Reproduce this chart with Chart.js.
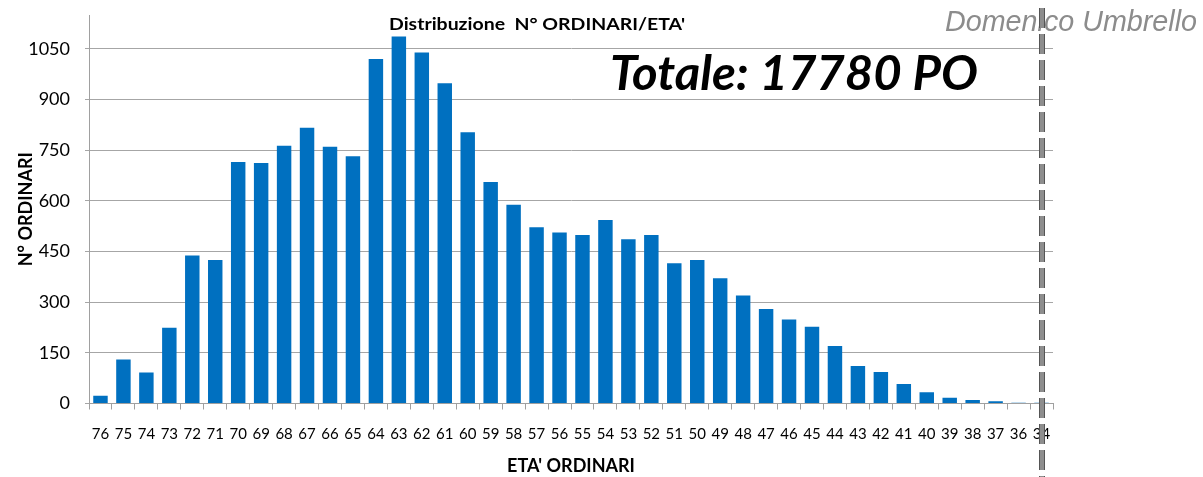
<!DOCTYPE html>
<html>
<head>
<meta charset="utf-8">
<script src="https://cdn.jsdelivr.net/npm/chart.js@4"></script>
<style>
  html, body { margin: 0; padding: 0; background: #fff; }
  #wrap { width: 1203px; height: 477px; }
</style>
</head>
<body>
<div id="wrap"><canvas id="chart" width="1203" height="477"></canvas></div>
<script>
// eta' (labels as in the original, 35 is missing)
const ageLabels = ['76','75','74','73','72','71','70','69','68','67','66','65','64','63','62','61','60','59','58','57','56','55','54','53','52','51','50','49','48','47','46','45','44','43','42','41','40','39','38','37','36','34'];
// numero ordinari per eta'
const ordinari = [23,130,92,224,438,425,715,712,763,816,760,732,1020,1086,1039,948,803,656,588,522,506,499,543,486,499,415,425,371,320,280,249,227,170,111,93,58,33,17,10,7,2,2];
const yTicks = [0,150,300,450,600,750,900,1050];

const chartTitle = "Distribuzione  N\u00b0 ORDINARI/ETA'";
const totalText = 'Totale: 17780 PO';
const authorText = 'Domenico Umbrello';

// draws text squeezed/stretched to a given width
const fitText = (ctx, text, x, y, width) => {
    let w = ctx.measureText(text).width;
    ctx.save();
    ctx.translate(x, y);
    ctx.scale(width / w, 1);
    ctx.fillText(text, 0, 0);
    ctx.restore();
};

const overlayText = {
    id: 'overlayText',
    afterDraw(chart) {
        const ctx = chart.ctx;
        ctx.save();
        ctx.fillStyle = '#000';
        ctx.textAlign = 'left';
        ctx.textBaseline = 'alphabetic';
        ctx.font = 'bold 17px Lato';
        fitText(ctx, chartTitle, 389, 30, 296);
        ctx.font = 'italic bold 48px Lato';
        fitText(ctx, totalText, 610, 90, 368);
        ctx.fillStyle = '#8c8c8c';
        ctx.font = 'italic 30px "Liberation Sans"';
        fitText(ctx, authorText, 945, 31, 252);
        // tratteggio verticale
        ctx.strokeStyle = '#8e8e8e';
        ctx.lineWidth = 6;
        ctx.setLineDash([20, 6]);
        ctx.beginPath();
        ctx.moveTo(1042, 8);
        ctx.lineTo(1042, 477);
        ctx.stroke();
        ctx.strokeStyle = '#555';
        ctx.lineWidth = 1;
        ctx.beginPath();
        ctx.moveTo(1039.5, 8);
        ctx.lineTo(1039.5, 477);
        ctx.moveTo(1044.5, 8);
        ctx.lineTo(1044.5, 477);
        ctx.stroke();
        ctx.restore();
    }
};

const ctx = document.getElementById('chart').getContext('2d');
new Chart(ctx, {
    type: 'bar',
    data: {
        labels: ageLabels,
        datasets: [{
            label: 'N\u00b0 ORDINARI',
            data: ordinari,
            backgroundColor: '#0070c0',
            borderWidth: 0,
            categoryPercentage: 1,
            barPercentage: 0.63
        }]
    },
    options: {
        responsive: false,
        animation: false,
        layout: { padding: { top: 15, right: 150, left: 0, bottom: 0 } },
        plugins: {
            legend: { display: false },
            tooltip: { enabled: false }
        },
        scales: {
            x: {
                offset: true,
                grid: {
                    offset: true,
                    drawOnChartArea: false,
                    color: '#a0a0a0',
                    tickLength: 6
                },
                border: { color: '#a0a0a0' },
                ticks: {
                    color: '#000',
                    font: { family: 'Lato', size: 15 },
                    padding: 16,
                    maxRotation: 0,
                    autoSkip: false
                },
                title: {
                    display: true,
                    text: "ETA' ORDINARI",
                    color: '#000',
                    font: { family: 'Lato', size: 18, weight: 'bold' },
                    padding: { top: 0, bottom: 0 }
                },
                afterFit: (s) => { s.height = 73.5; }
            },
            y: {
                min: 0,
                max: 1150,
                grid: { color: '#a6a6a6', tickLength: 4 },
                border: { color: '#a0a0a0' },
                ticks: {
                    stepSize: 150,
                    color: '#000',
                    font: { family: 'Lato', size: 18 },
                    padding: 15,
                    callback: (v) => String(v)
                },
                afterBuildTicks: (s) => { s.ticks = yTicks.map(v => ({ value: v })); },
                title: {
                    display: true,
                    text: 'N\u00b0 ORDINARI',
                    color: '#000',
                    font: { family: 'Lato', size: 18, weight: 'bold' },
                    padding: { top: 15, bottom: 0 }
                },
                afterFit: (s) => {
                    s.width = 89;
                    s.paddingTop = 0;
                    s.paddingBottom = 0;
                }
            }
        }
    },
    plugins: [overlayText]
});
</script>
</body>
</html>
